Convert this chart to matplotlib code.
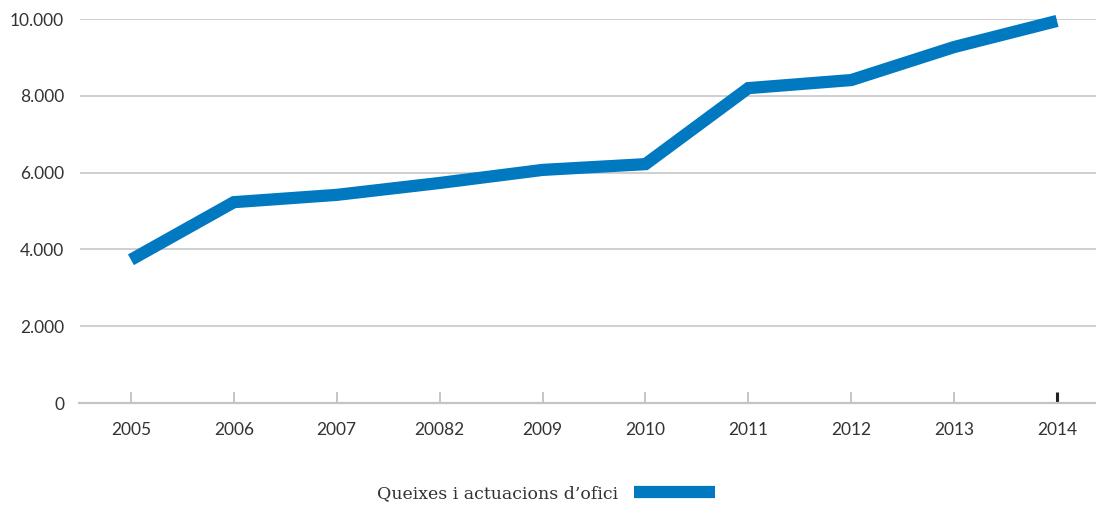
import numpy as np
import matplotlib.pyplot as plt
from matplotlib.ticker import FuncFormatter

years = ['2005', '2006', '2007', '20082', '2009', '2010', '2011', '2012', '2013', '2014']
queixes = [3730, 5230, 5420, 5730, 6070, 6220, 8200, 8410, 9270, 9950]
yticks = [0, 2000, 4000, 6000, 8000, 10000]

blue = '#0079c1'
grid_col = '#cccccc'
txt_col = '#333333'

plt.rcParams['font.family'] = ['Lato', 'DejaVu Sans']
plt.rcParams['lines.solid_capstyle'] = 'butt'

fig = plt.figure(figsize=(10.96, 5.05), dpi=100)
W, H = 1096, 505
x0, x1 = 79.5, 1108.5
y0, y1 = 403, 19
ax = fig.add_axes([x0 / W, 1 - y0 / H, (x1 - x0) / W, (y0 - y1) / H])

x = np.arange(len(years))
ax.plot(x, queixes, color=blue, lw=8.8, solid_joinstyle='miter', clip_on=False,
        label='Queixes i actuacions d\u2019ofici')

ax.set_xlim(-0.5, len(years) - 0.5)
ax.set_ylim(0, 10000)
ax.set_yticks(yticks)
ax.yaxis.set_major_formatter(FuncFormatter(lambda v, p: f'{int(v):,}'.replace(',', '.')))
ax.set_xticks(x)
ax.set_xticklabels(years)

ax.grid(axis='y', color=grid_col, lw=1.3)
ax.set_axisbelow(True)
for s in ['top', 'right', 'left']:
    ax.spines[s].set_visible(False)
ax.spines['bottom'].set_color('#c4c4c4')
ax.spines['bottom'].set_linewidth(1.6)

ax.tick_params(axis='y', length=0, pad=11, labelsize=12.5, labelcolor=txt_col)
ax.tick_params(axis='x', direction='in', length=8, width=1.2, color='#bbbbbb',
               pad=14, labelsize=12.5, labelcolor=txt_col)

fig.canvas.draw()
last = ax.xaxis.get_major_ticks()[-1].tick1line
last.set_markeredgecolor('#222222')
last.set_markeredgewidth(2.2)

leg = fig.legend(loc='center', bbox_to_anchor=(546 / W, 1 - 494 / H), frameon=False,
                 markerfirst=False, handlelength=4.7, handletextpad=0.9,
                 prop={'family': 'DejaVu Serif', 'size': 12.5})
for t in leg.get_texts():
    t.set_color(txt_col)

fig.savefig('out.png', dpi=100)
